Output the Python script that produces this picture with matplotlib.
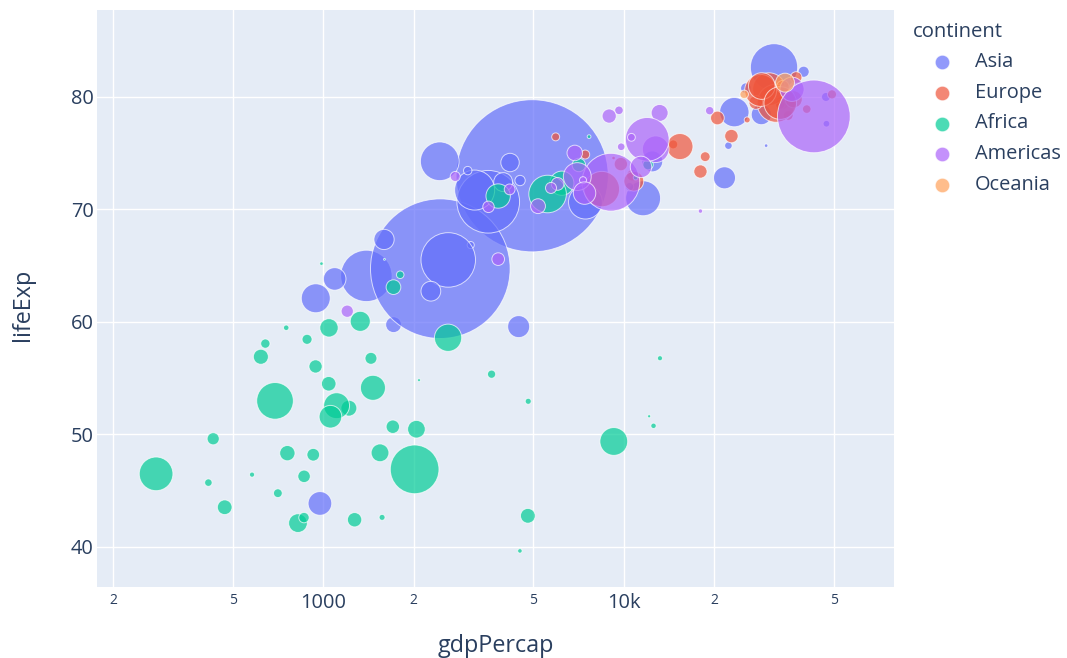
"""Gapminder 2007 气泡图：gdpPercap (log) vs lifeExp，气泡面积 ~ pop。"""

import numpy as np
import matplotlib
matplotlib.use("Agg")
import matplotlib.pyplot as plt
from matplotlib.lines import Line2D
from matplotlib.ticker import FixedLocator, FixedFormatter

plt.rcParams["font.family"] = ["Open Sans", "DejaVu Sans"]

CONTINENTS = ["Asia", "Europe", "Africa", "Americas", "Oceania"]
COLORS = ["#636efa", "#EF553B", "#00cc96", "#ab63fa", "#FFA15A"]

# 每个大洲：gdpPercap, lifeExp, pop(百万)，按国家字母序
ASIA_GDP = [974.6, 29796.0, 1391.3, 1713.8, 4959.1, 39725.0, 2452.2, 3540.7, 11605.7,
            4471.1, 25523.3, 31656.1, 4519.5, 1593.1, 23348.1, 47307.0, 10461.1,
            12451.7, 3095.8, 944.0, 1091.4, 22316.2, 2605.9, 3190.5, 21654.8,
            47143.2, 3970.1, 4184.5, 28718.3, 7458.4, 2441.6, 3025.4, 2280.8]
ASIA_LIFE = [43.83, 75.64, 64.06, 59.72, 72.96, 82.21, 64.70, 70.65, 70.96, 59.55,
             80.75, 82.60, 72.54, 67.30, 78.62, 77.59, 71.99, 74.24, 66.80, 62.07,
             63.79, 75.64, 65.48, 71.69, 72.78, 79.97, 72.40, 74.14, 78.40, 70.62,
             74.25, 73.42, 62.70]
ASIA_POP = [31.89, 0.709, 150.45, 14.13, 1318.68, 6.98, 1110.40, 223.55, 69.45,
            27.50, 6.43, 127.47, 6.05, 23.30, 49.04, 2.51, 3.92, 24.82, 2.87,
            47.76, 28.90, 3.20, 169.27, 91.08, 27.60, 4.55, 20.38, 19.31, 23.17,
            65.07, 85.26, 4.02, 22.21]

EUROPE_GDP = [5937.0, 36126.5, 33692.6, 7446.3, 10680.8, 14619.2, 22833.3, 35278.4,
              33207.1, 30470.0, 32170.4, 27538.4, 18008.9, 36180.8, 40676.0,
              28569.7, 9253.9, 36797.9, 49357.2, 15389.9, 20509.6, 10808.5,
              9786.5, 18678.3, 25768.3, 28821.1, 33859.7, 37506.4, 8458.3, 33203.3]
EUROPE_LIFE = [76.42, 79.83, 79.44, 74.85, 73.01, 75.75, 76.49, 78.33, 79.31, 80.66,
               79.41, 79.48, 73.34, 81.76, 78.89, 80.55, 74.54, 79.76, 80.20, 75.56,
               78.10, 72.48, 74.00, 74.66, 77.93, 80.94, 80.88, 81.70, 71.78, 79.43]
EUROPE_POP = [3.60, 8.20, 10.39, 4.55, 7.32, 4.49, 10.23, 5.47, 5.24, 61.08, 82.40,
              10.71, 9.96, 0.302, 4.11, 58.15, 0.685, 16.57, 4.63, 38.52, 10.64,
              22.28, 10.15, 5.45, 2.01, 40.45, 9.03, 7.55, 71.16, 60.78]

AFRICA_GDP = [6223.4, 4797.2, 1441.3, 12569.9, 1217.0, 430.1, 2042.1, 706.0, 1704.1,
              986.1, 277.6, 3632.6, 1544.8, 2082.5, 5581.2, 12154.1, 641.4, 690.8,
              13206.5, 752.7, 1327.6, 942.7, 579.2, 1463.2, 1569.3, 414.5, 12057.5,
              1044.8, 759.3, 1042.6, 1803.2, 10957.0, 3820.2, 823.7, 4811.1, 619.7,
              2014.0, 7670.1, 863.1, 1598.4, 1712.5, 862.5, 926.1, 9269.7, 2602.4,
              4513.5, 1107.5, 883.0, 7092.9, 1056.4, 1271.2, 469.7]
AFRICA_LIFE = [72.30, 42.73, 56.73, 50.73, 52.30, 49.58, 50.43, 44.74, 50.65, 65.15,
               46.46, 55.32, 48.33, 54.79, 71.34, 51.58, 58.04, 52.95, 56.74, 59.45,
               60.02, 56.01, 46.39, 54.11, 42.59, 45.68, 73.95, 59.44, 48.30, 54.47,
               64.16, 72.80, 71.16, 42.08, 52.91, 56.87, 46.86, 76.44, 46.24, 65.53,
               63.06, 42.57, 48.16, 49.34, 58.56, 39.61, 52.52, 58.42, 73.92, 51.54,
               42.38, 43.49]
AFRICA_POP = [33.33, 12.42, 8.08, 1.64, 14.33, 8.39, 17.70, 4.37, 10.24, 0.711,
              64.61, 3.80, 18.01, 0.496, 80.26, 0.551, 4.91, 76.51, 1.45, 1.69,
              22.87, 9.95, 1.47, 35.61, 2.01, 3.19, 6.04, 19.17, 13.33, 12.03, 3.27,
              1.25, 33.76, 19.95, 2.06, 12.89, 135.03, 0.798, 8.86, 0.200, 12.27,
              6.14, 9.12, 44.00, 42.29, 1.13, 38.14, 5.70, 10.28, 29.17, 11.75, 12.31]

AMERICAS_GDP = [12779.4, 3822.1, 9065.8, 36319.2, 13171.6, 7006.6, 9645.1, 8948.1,
                6025.4, 6873.3, 5728.4, 5186.1, 1201.6, 3548.3, 7320.9, 11977.6,
                2749.3, 9809.2, 4172.8, 7408.9, 19328.7, 18008.5, 42951.7, 10611.5,
                11415.8]
AMERICAS_LIFE = [75.32, 65.55, 72.39, 80.65, 78.55, 72.89, 78.78, 78.27, 72.24,
                 74.99, 71.88, 70.26, 60.92, 70.20, 72.57, 76.20, 72.90, 75.54,
                 71.75, 71.42, 78.75, 69.82, 78.24, 76.38, 73.75]
AMERICAS_POP = [40.30, 9.12, 190.01, 33.39, 16.28, 44.23, 4.13, 11.42, 9.32, 13.76,
                6.94, 12.57, 8.50, 7.48, 2.78, 108.70, 5.68, 3.24, 6.67, 28.67, 3.94,
                1.06, 301.14, 3.45, 26.08]

OCEANIA_GDP = [34435.4, 25185.0]
OCEANIA_LIFE = [81.24, 80.20]
OCEANIA_POP = [20.43, 4.12]

SERIES = [
    (ASIA_GDP, ASIA_LIFE, ASIA_POP),
    (EUROPE_GDP, EUROPE_LIFE, EUROPE_POP),
    (AFRICA_GDP, AFRICA_LIFE, AFRICA_POP),
    (AMERICAS_GDP, AMERICAS_LIFE, AMERICAS_POP),
    (OCEANIA_GDP, OCEANIA_LIFE, OCEANIA_POP),
]

BG = "#E5ECF6"
TEXT = "#2a3f5f"
MAX_S = 12000.0  # 最大气泡面积 (pt²)
W, H = 1067, 658


def main():
    fig = plt.figure(figsize=(W / 100, H / 100), dpi=100)
    ax = fig.add_axes([97 / W, 1 - 587 / H, (894 - 97) / W, (587 - 10) / H])
    ax.set_facecolor(BG)
    for sp in ax.spines.values():
        sp.set_visible(False)

    pop_max = max(max(s[2]) for s in SERIES)
    for (gdp, life, pop), color in zip(SERIES, COLORS):
        sizes = np.array(pop) / pop_max * MAX_S
        ax.scatter(gdp, life, s=sizes, c=color, alpha=0.7,
                   edgecolors="white", linewidths=0.7, zorder=3)

    ax.set_xscale("log")
    ax.set_xlim(176.5, 79400)
    ax.set_ylim(36.4, 87.7)

    ax.xaxis.set_major_locator(FixedLocator([1000, 10000]))
    ax.xaxis.set_major_formatter(FixedFormatter(["1000", "10k"]))
    ax.xaxis.set_minor_locator(FixedLocator([200, 500, 2000, 5000, 20000, 50000]))
    ax.xaxis.set_minor_formatter(FixedFormatter(["2", "5", "2", "5", "2", "5"]))
    ax.set_yticks([40, 50, 60, 70, 80])

    ax.tick_params(axis="x", which="major", length=0, pad=4, labelsize=14.4, labelcolor=TEXT)
    ax.tick_params(axis="x", which="minor", length=0, pad=4, labelsize=10, labelcolor=TEXT)
    ax.tick_params(axis="y", length=0, pad=2.5, labelsize=14.4, labelcolor=TEXT)
    ax.grid(True, which="both", color="white", linewidth=1.0, zorder=0)
    ax.set_axisbelow(True)

    fig.text(495.5 / W, 1 - 646 / H, "gdpPercap", ha="center", va="center",
             fontsize=16.8, color=TEXT)
    fig.text(23 / W, 1 - 305 / H, "lifeExp", ha="center", va="center",
             rotation=90, fontsize=16.8, color=TEXT)

    # 图例（手动放置，贴合原图位置）
    fig.text(913 / W, 1 - 32 / H, "continent", ha="left", va="center",
             fontsize=14.6, color=TEXT)
    row_y = 62
    for name, color in zip(CONTINENTS, COLORS):
        fig.add_artist(Line2D([942 / W], [1 - row_y / H], marker="o", linestyle="none",
                              markersize=10.5, markerfacecolor=color,
                              markeredgecolor="white", markeredgewidth=0.7,
                              alpha=0.7, transform=fig.transFigure))
        fig.text(975 / W, 1 - row_y / H, name, ha="left", va="center",
                 fontsize=14.4, color=TEXT)
        row_y += 30.75

    fig.savefig("out.png", dpi=100, facecolor="white")
    plt.close(fig)


if __name__ == "__main__":
    main()
